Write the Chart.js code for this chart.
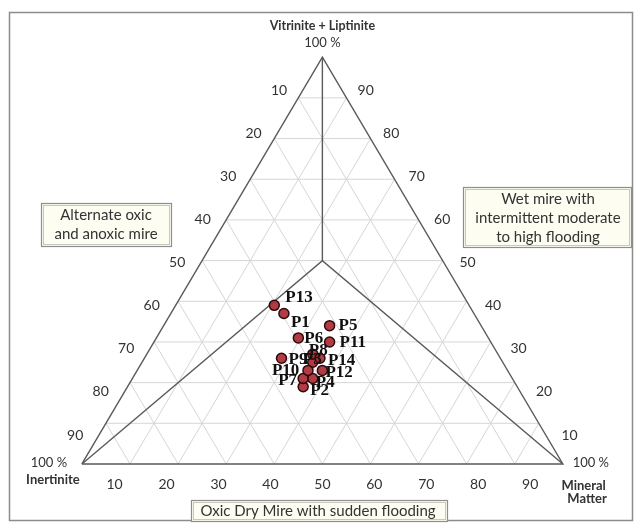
<!DOCTYPE html>
<html>
<head>
<meta charset="utf-8">
<script src="https://cdn.jsdelivr.net/npm/chart.js@4.4.0/dist/chart.umd.min.js"></script>
<style>
  html, body { margin: 0; padding: 0; background: #fff; }
  #wrap { width: 634px; height: 529px; position: relative; }
</style>
</head>
<body>
<div id="wrap"><canvas id="ternary"></canvas></div>
<script>
// sample composition (%)
const samples    = ['P1', 'P2', 'P3', 'P4', 'P5', 'P6', 'P7', 'P8', 'P9', 'P10', 'P11', 'P12', 'P13', 'P14'];
const vitrinite  = [37, 19, 25, 21, 34, 31, 21, 27, 26, 23, 30, 23, 39, 26];
const inertinite = [39.5, 44.5, 39.5, 41.5, 31.5, 39.5, 43.5, 38.5, 45.5, 41.5, 33.5, 38.5, 40.5, 37.5];
const mineral    = [23.5, 36.5, 35.5, 37.5, 34.5, 29.5, 35.5, 34.5, 28.5, 35.5, 36.5, 38.5, 20.5, 36.5];
const tickValues = [10, 20, 30, 40, 50, 60, 70, 80, 90];

// little nudges (px) so the sample names sit like in the original
const labelOffsets = [[7, 9], [7, 4], [-10, -3], [3, 4], [9, 0], [6, 1], [-25, 2],
                      [-4, -4], [7, 1], [-36, 0], [10, 1], [3, 2], [11, -8], [8, 2]];

// V on top, I bottom-left, M bottom-right
function toXY(v, i, m) {
  const t = v + i + m;
  v = v * 100 / t; m = m * 100 / t;
  return { x: m + v / 2, y: v };
}

const GRID = '#d6d6d6';
const EDGE = '#5a5a5a';

const datasets = [];
function addLine(points, color, width, order) {
  datasets.push({
    data: points, showLine: true, pointRadius: 0, borderColor: color,
    borderWidth: width, fill: false, order: order, tension: 0
  });
}

tickValues.forEach(k => {
  addLine([toXY(k, 100 - k, 0), toXY(k, 0, 100 - k)], GRID, 1, 3);     // const V
  addLine([toXY(0, 100 - k, k), toXY(100 - k, 0, k)], GRID, 1, 3);     // const M
  addLine([toXY(0, k, 100 - k), toXY(100 - k, k, 0)], GRID, 1, 3);     // const I
});

// outer triangle and the three field boundaries
addLine([toXY(0, 100, 0), toXY(100, 0, 0), toXY(0, 0, 100), toXY(0, 100, 0)], EDGE, 1.4, 2);
addLine([toXY(0, 100, 0), toXY(50, 25, 25), toXY(0, 0, 100)], EDGE, 1.4, 2);
addLine([toXY(100, 0, 0), toXY(50, 25, 25)], EDGE, 1.4, 2);

datasets.push({
  data: samples.map((s, i) => toXY(vitrinite[i], inertinite[i], mineral[i])),
  pointRadius: 5,
  pointBackgroundColor: 'rgba(172, 42, 52, 0.92)',
  pointBorderColor: '#2b0b0b',
  pointBorderWidth: 1.5,
  showLine: false,
  order: 0
});

function box(ctx, x, y, w, h, lines, cx, firstY, step) {
  ctx.fillStyle = '#fdfdf2';
  ctx.fillRect(x, y, w, h);
  ctx.strokeStyle = '#8e8e8e';
  ctx.lineWidth = 1.2;
  ctx.strokeRect(x + 0.5, y + 0.5, w, h);
  ctx.strokeStyle = '#c8c8c0';
  ctx.lineWidth = 1;
  ctx.strokeRect(x + 2.5, y + 2.5, w - 4, h - 4);
  ctx.fillStyle = '#333';
  ctx.font = '15px Lato';
  ctx.textAlign = 'center';
  ctx.textBaseline = 'middle';
  lines.forEach((t, i) => ctx.fillText(t, cx, firstY + i * step));
}

const ternaryText = {
  id: 'ternaryText',
  beforeDraw(chart) {
    const ctx = chart.ctx;
    ctx.save();
    ctx.fillStyle = '#fff';
    ctx.fillRect(0, 0, chart.width, chart.height);
    ctx.strokeStyle = '#8c8c8c';
    ctx.lineWidth = 1.5;
    ctx.strokeRect(9.5, 12.5, 623, 508);
    ctx.restore();
  },
  afterDatasetsDraw(chart) {
    const { ctx, scales: { x, y } } = chart;
    const pt = (v, i, m) => {
      const p = toXY(v, i, m);
      return [x.getPixelForValue(p.x), y.getPixelForValue(p.y)];
    };
    // tick labels in the original are spread a bit wider than the grid
    const spread = (k, f) => 50 + (k - 50) * f;
    ctx.save();

    ctx.fillStyle = '#333';
    ctx.font = '14px Lato';
    ctx.textAlign = 'center';
    ctx.textBaseline = 'middle';
    tickValues.forEach(k => {
      let s = spread(k, 1.06);
      let p = pt(100 - s, s, 0);          // left edge: inertinite
      ctx.fillText(String(k), p[0] - 25, p[1] + 2);
      p = pt(s, 0, 100 - s);              // right edge: vitrinite + liptinite
      ctx.fillText(String(k), p[0] + 25, p[1] + 2);
      s = spread(k, 1.08);
      p = pt(0, 100 - s, s);              // base: mineral matter
      ctx.fillText(String(k), p[0], p[1] + 21);
    });

    // corner labels
    let p = pt(100, 0, 0);
    ctx.font = '13px Lato';
    ctx.fillText('100 %', p[0], p[1] - 14);
    ctx.font = 'bold 12.5px Lato';
    ctx.fillText('Vitrinite + Liptinite', p[0], p[1] - 31);
    ctx.font = '13px Lato';
    p = pt(0, 100, 0);
    ctx.fillText('100 %', p[0] - 33, p[1] - 1);
    ctx.font = 'bold 13px Lato';
    ctx.fillText('Inertinite', p[0] - 29, p[1] + 16);
    ctx.font = '13px Lato';
    p = pt(0, 0, 100);
    ctx.fillText('100 %', p[0] + 28, p[1] - 1);
    ctx.font = 'bold 13px Lato';
    ctx.textAlign = 'right';
    ctx.fillText('Mineral', p[0] + 43, p[1] + 22);
    ctx.fillText('Matter', p[0] + 44, p[1] + 35);

    // field names
    box(ctx, 41, 203, 130, 43, ['Alternate oxic', 'and anoxic mire'], 106, 215, 19);
    box(ctx, 463, 187, 168, 60, ['Wet mire with', 'intermittent moderate', 'to high flooding'], 548, 199, 19);
    box(ctx, 191, 500, 256, 21, ['Oxic Dry Mire with sudden flooding'], 318, 511, 19);

    // sample names
    ctx.fillStyle = '#111';
    ctx.font = 'bold 17px "Liberation Serif"';
    ctx.textAlign = 'left';
    ctx.textBaseline = 'middle';
    samples.forEach((s, i) => {
      const q = pt(vitrinite[i], inertinite[i], mineral[i]);
      ctx.fillText(s, q[0] + labelOffsets[i][0], q[1] + labelOffsets[i][1]);
    });
    ctx.restore();
  }
};

new Chart(document.getElementById('ternary'), {
  type: 'scatter',
  data: { datasets: datasets },
  options: {
    responsive: true,
    maintainAspectRatio: false,
    animation: false,
    clip: false,
    layout: { padding: 0 },
    scales: {
      x: { type: 'linear', display: false, min: -77 / 4.91, max: (634 - 77) / 4.91 },
      y: { type: 'linear', display: false, min: -(529 - 469) / 4.17, max: 100 + 52 / 4.17 }
    },
    plugins: { legend: { display: false }, tooltip: { enabled: false } }
  },
  plugins: [ternaryText]
});
</script>
</body>
</html>
